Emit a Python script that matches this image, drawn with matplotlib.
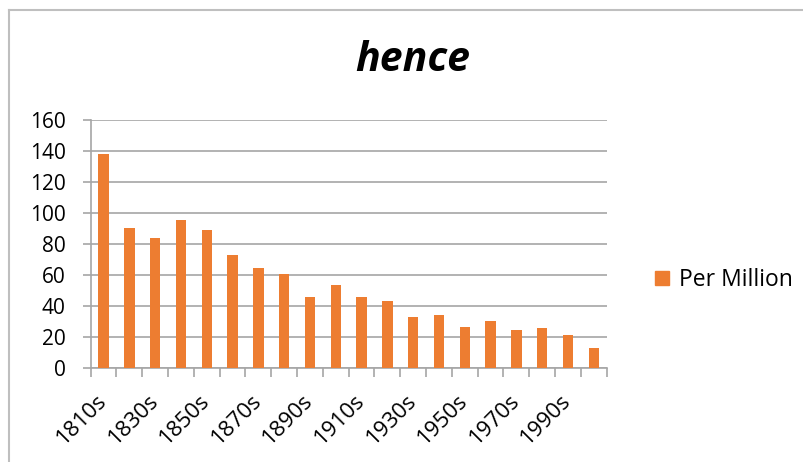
import matplotlib.pyplot as plt
from matplotlib.lines import Line2D
import numpy as np

# Decade values
decades = ['1810s', '1820s', '1830s', '1840s', '1850s', '1860s', '1870s', '1880s', '1890s', '1900s',
           '1910s', '1920s', '1930s', '1940s', '1950s', '1960s', '1970s', '1980s', '1990s', '2000s']
per_million = [138, 90.5, 83.6, 95.4, 89.2, 73.2, 64.8, 60.5, 45.7, 53.4,
               45.7, 42.9, 33.2, 34.5, 26.7, 30, 24.4, 25.9, 21.3, 12.9]

bar_color = '#ED7D31'
grid_color = '#A6A6A6'
font = 'Open Sans'

fig = plt.figure(figsize=(8.04, 4.62), dpi=100)
ax = fig.add_axes([0.1128, 0.2035, 0.7546 - 0.1128, 0.7403 - 0.2035])

x = np.arange(len(decades))
ax.bar(x, per_million, width=0.4, color=bar_color, zorder=3, label='Per Million')

ax.set_xlim(-0.5, len(decades) - 0.5)
ax.set_ylim(0, 160)
ax.set_yticks(range(0, 161, 20))
ax.yaxis.grid(True, color=grid_color, linewidth=1.2, zorder=0)

# tick marks sit between categories, labels every other decade
ax.set_xticks(np.arange(-0.5, len(decades)), minor=False)
ax.set_xticklabels([])
ax.set_xticks(x[::2], minor=True)
ax.set_xticklabels(decades[::2], minor=True, rotation=45, ha='right', va='center',
                   rotation_mode='anchor', fontsize=16, family=font)
ax.tick_params(axis='x', which='minor', length=0, pad=21)
ax.tick_params(axis='x', which='major', length=6.5, color=grid_color, width=1.2)
ax.tick_params(axis='y', length=6, color=grid_color, width=1.2, labelsize=15, pad=12)
for lbl in ax.get_yticklabels():
    lbl.set_family(font)

for side in ['top', 'right']:
    ax.spines[side].set_visible(False)
for side in ['left', 'bottom']:
    ax.spines[side].set_color(grid_color)
    ax.spines[side].set_linewidth(1.2)

fig.text(0.513, 0.868, 'hence', ha='center', va='center', fontsize=29.5,
         fontweight='bold', fontstyle='italic', family=font)

handle = Line2D([], [], marker='s', linestyle='none', color=bar_color, markersize=10)
fig.legend([handle], ['Per Million'], loc='center left', bbox_to_anchor=(0.809, 0.394),
           frameon=False, prop={'family': font, 'size': 16.5}, handlelength=1,
           handletextpad=0.25, borderpad=0, borderaxespad=0)

# chart border
fig.add_artist(Line2D([9 / 804, 1], [1 - 10 / 462, 1 - 10 / 462], color='#BFBFBF', linewidth=1.5,
                      transform=fig.transFigure))
fig.add_artist(Line2D([9 / 804, 9 / 804], [0, 1 - 10 / 462], color='#BFBFBF', linewidth=1.5,
                      transform=fig.transFigure))

fig.savefig('out.png', dpi=100, facecolor='white')
